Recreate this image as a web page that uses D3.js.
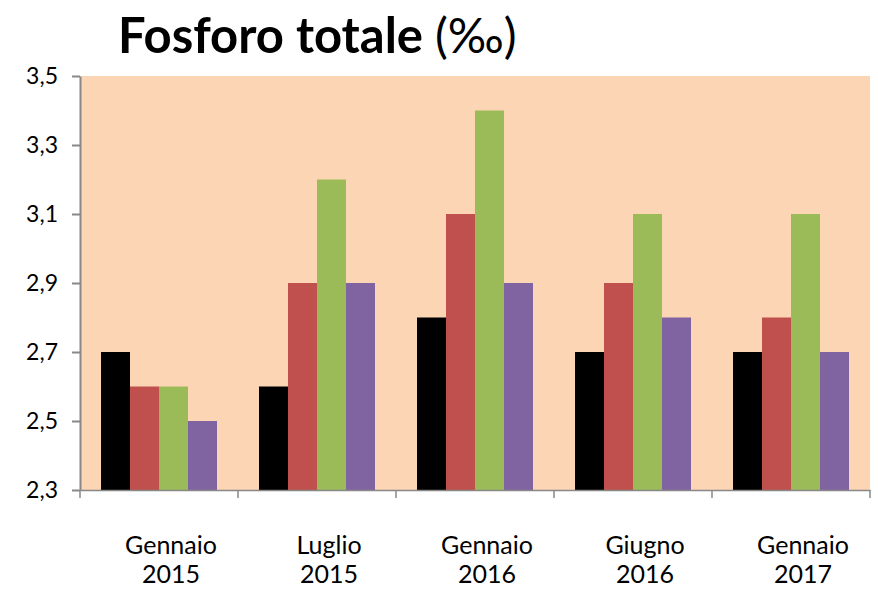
<!DOCTYPE html>
<html>
<head>
<meta charset="utf-8">
<script src="https://cdn.jsdelivr.net/npm/d3@7"></script>
<style>
  body { margin: 0; background: #fff; }
  text { font-family: Lato, "Open Sans", sans-serif; }
</style>
</head>
<body>
<svg id="chart" width="878" height="590"></svg>
<script>
// data
var categories = ["Gennaio 2015", "Luglio 2015", "Gennaio 2016", "Giugno 2016", "Gennaio 2017"];
var seriesNames = ["s1", "s2", "s3", "s4"];
var s1 = [2.7, 2.6, 2.8, 2.7, 2.7];
var s2 = [2.6, 2.9, 3.1, 2.9, 2.8];
var s3 = [2.6, 3.2, 3.4, 3.1, 3.1];
var s4 = [2.5, 2.9, 2.9, 2.8, 2.7];
var yTicks = [2.3, 2.5, 2.7, 2.9, 3.1, 3.3, 3.5];
var colors = ["#000000", "#c0504d", "#9bbb59", "#8064a2"];

var series = [s1, s2, s3, s4];

var svg = d3.select("#chart");
var margin = {top: 76, right: 8, bottom: 100, left: 80};
var width = 878 - margin.left - margin.right,
  height = 590 - margin.top - margin.bottom;

var g = svg.append("g")
  .attr("transform", "translate(" + margin.left + "," + margin.top + ")");

var x0 = d3.scaleBand()
  .domain(categories)
  .range([0, width])
  .padding(0);

var gap = 21;
var x1 = d3.scaleBand()
  .domain(seriesNames)
  .range([gap, x0.bandwidth() - gap])
  .padding(0);

var y = d3.scaleLinear()
  .domain([2.3, 3.5])
  .range([height, 0]);

//plot background
g.append("rect")
  .attr("width", width)
  .attr("height", height)
  .style("fill", "#fcd5b5");

var groups = g.selectAll("g.group")
  .data(categories)
  .enter()
  .append("g")
  .attr("class", "group")
  .attr("transform", function (d) {
    return "translate(" + x0(d) + ",0)";
  });

groups.selectAll("rect")
  .data(function (d, i) {
    return series.map(function (s, j) {
      return {key: seriesNames[j], value: s[i], color: colors[j]};
    });
  })
  .enter()
  .append("rect")
  .attr("x", function (d) { return x1(d.key); })
  .attr("y", function (d) { return y(d.value); })
  .attr("width", x1.bandwidth())
  .attr("height", function (d) { return height - y(d.value); })
  .style("fill", function (d) { return d.color; });

//y axis
var fmt = function (d) { return d3.format(".1f")(d).replace(".", ","); };
var yAxis = g.append("g")
  .call(d3.axisLeft(y).tickValues(yTicks).tickFormat(fmt).tickSizeInner(8).tickSizeOuter(0));
yAxis.select(".domain").attr("stroke", "#888").attr("stroke-width", 2);
yAxis.selectAll(".tick line").attr("stroke", "#888").attr("stroke-width", 2);
yAxis.selectAll(".tick text")
  .attr("x", -22)
  .style("font-size", "23px")
  .style("fill", "#000");

//x axis
var xAxis = g.append("g")
  .attr("transform", "translate(0," + height + ")")
  .call(d3.axisBottom(x0).tickSize(0).tickFormat(""));
xAxis.select(".domain").attr("stroke", "#888").attr("stroke-width", 1.5);

var xTicks = categories.map(function (d) { return x0(d) + x0.bandwidth(); });
xTicks.unshift(0);
xAxis.selectAll("line.cat-tick")
  .data(xTicks)
  .enter()
  .append("line")
  .attr("class", "cat-tick")
  .attr("x1", function (d) { return d; })
  .attr("x2", function (d) { return d; })
  .attr("y1", 0)
  .attr("y2", 8)
  .attr("stroke", "#888")
  .attr("stroke-width", 1.5);

var labels = xAxis.selectAll("text.cat")
  .data(categories)
  .enter()
  .append("text")
  .attr("class", "cat")
  .attr("text-anchor", "middle")
  .attr("transform", function (d) {
    return "translate(" + (x0(d) + x0.bandwidth() / 2 + 12) + ",0)";
  })
  .style("font-size", "25px")
  .style("fill", "#000");

labels.append("tspan")
  .attr("x", 0)
  .attr("y", 64)
  .text(function (d) { return d.split(" ")[0]; });
labels.append("tspan")
  .attr("x", 0)
  .attr("y", 93)
  .text(function (d) { return d.split(" ")[1]; });

//title
var title = svg.append("text")
  .attr("x", 118)
  .attr("y", 53)
  .style("fill", "#000");
title.append("tspan")
  .style("font-size", "49px")
  .style("font-weight", "bold")
  .text("Fosforo totale");
title.append("tspan")
  .attr("dx", 12)
  .style("font-size", "48px")
  .text("(‰)");
</script>
</body>
</html>
